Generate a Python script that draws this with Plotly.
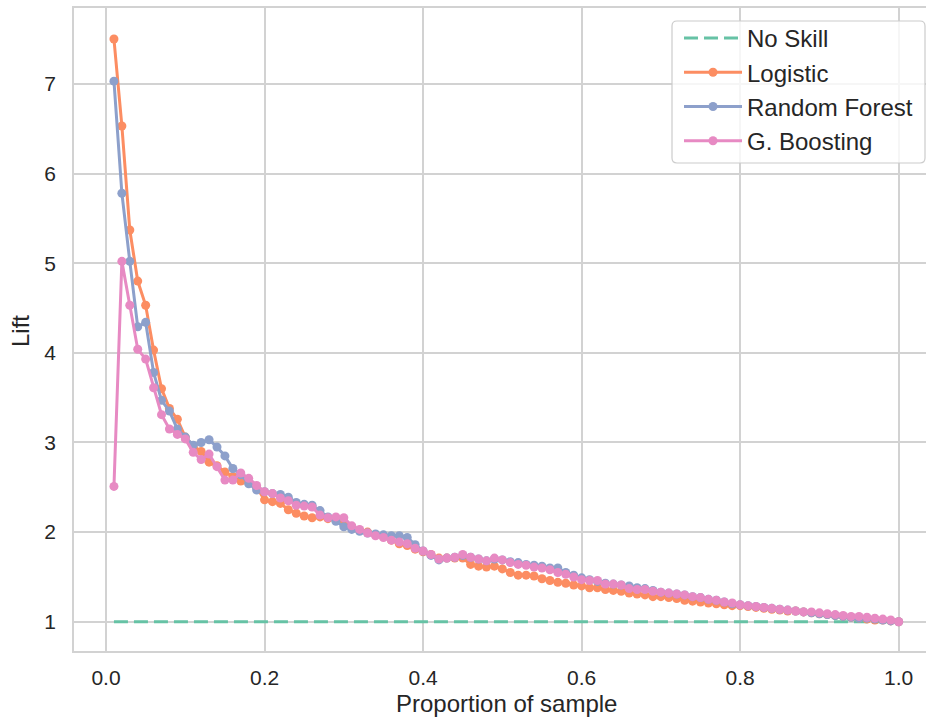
import plotly.graph_objects as go

# Proportion of sample (deciles at 1% resolution)
proportion = [round(0.01 * i, 2) for i in range(1, 101)]

no_skill = [1.0] * 100

logistic = [
    7.50, 6.53, 5.37, 4.80, 4.53, 4.03, 3.60, 3.38, 3.26, 3.06,
    2.96, 2.90, 2.78, 2.74, 2.67, 2.62, 2.57, 2.55, 2.50, 2.36,
    2.34, 2.32, 2.25, 2.21, 2.18, 2.16, 2.17, 2.15, 2.14, 2.11,
    2.06, 2.02, 2.00, 1.97, 1.95, 1.91, 1.87, 1.85, 1.81, 1.78,
    1.75, 1.71, 1.71, 1.71, 1.71, 1.64, 1.62, 1.61, 1.62, 1.59,
    1.55, 1.52, 1.52, 1.51, 1.48, 1.46, 1.44, 1.43, 1.41, 1.40,
    1.38, 1.38, 1.36, 1.35, 1.34, 1.32, 1.31, 1.30, 1.28, 1.28,
    1.27, 1.26, 1.24, 1.23, 1.22, 1.21, 1.20, 1.19, 1.18, 1.18,
    1.17, 1.16, 1.15, 1.14, 1.13, 1.12, 1.12, 1.11, 1.10, 1.09,
    1.08, 1.07, 1.06, 1.05, 1.04, 1.03, 1.02, 1.02, 1.01, 1.00,
]

random_forest = [
    7.03, 5.78, 5.02, 4.29, 4.34, 3.78, 3.47, 3.35, 3.15, 3.06,
    2.97, 3.00, 3.03, 2.95, 2.85, 2.71, 2.64, 2.54, 2.47, 2.45,
    2.43, 2.42, 2.39, 2.33, 2.31, 2.30, 2.24, 2.17, 2.12, 2.06,
    2.03, 2.01, 1.99, 1.98, 1.97, 1.96, 1.96, 1.94, 1.86, 1.79,
    1.74, 1.69, 1.71, 1.72, 1.74, 1.72, 1.70, 1.68, 1.70, 1.69,
    1.67, 1.66, 1.64, 1.63, 1.62, 1.60, 1.60, 1.55, 1.52, 1.49,
    1.47, 1.45, 1.43, 1.42, 1.41, 1.40, 1.38, 1.37, 1.35, 1.33,
    1.32, 1.31, 1.30, 1.28, 1.27, 1.25, 1.24, 1.22, 1.20, 1.19,
    1.18, 1.17, 1.16, 1.15, 1.14, 1.13, 1.12, 1.11, 1.10, 1.09,
    1.08, 1.07, 1.06, 1.05, 1.04, 1.04, 1.03, 1.02, 1.01, 1.00,
]

g_boosting = [
    2.51, 5.02, 4.53, 4.04, 3.93, 3.61, 3.31, 3.15, 3.09, 3.04,
    2.89, 2.81, 2.87, 2.73, 2.58, 2.58, 2.66, 2.60, 2.52, 2.45,
    2.43, 2.38, 2.35, 2.30, 2.29, 2.28, 2.19, 2.16, 2.17, 2.16,
    2.07, 2.03, 1.99, 1.96, 1.94, 1.91, 1.89, 1.87, 1.82, 1.79,
    1.75, 1.70, 1.71, 1.72, 1.75, 1.72, 1.70, 1.68, 1.71, 1.69,
    1.66, 1.64, 1.63, 1.61, 1.60, 1.58, 1.55, 1.53, 1.50, 1.47,
    1.46, 1.46, 1.42, 1.42, 1.41, 1.37, 1.36, 1.36, 1.34, 1.33,
    1.32, 1.31, 1.30, 1.28, 1.27, 1.25, 1.24, 1.22, 1.21, 1.19,
    1.18, 1.17, 1.16, 1.15, 1.14, 1.13, 1.12, 1.11, 1.11, 1.10,
    1.09, 1.08, 1.07, 1.06, 1.06, 1.05, 1.04, 1.03, 1.02, 1.00,
]

x_ticks = [0.0, 0.2, 0.4, 0.6, 0.8, 1.0]
y_ticks = [1, 2, 3, 4, 5, 6, 7]

FONT = "Liberation Sans, Arial, sans-serif"
TEXT = "#262626"
GRID = "#d2d2d2"

W, H = 926, 720
L, R, T, B = 74, 0, 8, 69
pw, ph = W - L - R, H - T - B


def px_x(p):
    return (p - L) / pw


def px_y(p):
    return (H - B - p) / ph


fig = go.Figure()

fig.add_trace(go.Scatter(
    x=proportion, y=no_skill, name="No Skill", mode="lines",
    line=dict(color="#66c2a5", width=3, dash="14px,6px"),
))

series = [
    ("Logistic", logistic, "#fc8d62"),
    ("Random Forest", random_forest, "#8da0cb"),
    ("G. Boosting", g_boosting, "#e78ac3"),
]
for name, vals, color in series:
    fig.add_trace(go.Scatter(
        x=proportion, y=vals, name=name, mode="lines+markers",
        line=dict(color=color, width=3),
        marker=dict(color=color, size=9),
    ))

# legend frame (rounded, semi-transparent)
lx0, lx1, ly0, ly1, rad = px_x(672), px_x(925), px_y(163), px_y(21), 5
rx, ry = rad / pw, rad / ph
path = (
    f"M {lx0 + rx},{ly1} L {lx1 - rx},{ly1} Q {lx1},{ly1} {lx1},{ly1 - ry} "
    f"L {lx1},{ly0 + ry} Q {lx1},{ly0} {lx1 - rx},{ly0} "
    f"L {lx0 + rx},{ly0} Q {lx0},{ly0} {lx0},{ly0 + ry} "
    f"L {lx0},{ly1 - ry} Q {lx0},{ly1} {lx0 + rx},{ly1} Z"
)
fig.add_shape(type="path", path=path, xref="paper", yref="paper",
              fillcolor="rgba(255,255,255,0.8)",
              line=dict(color="#cccccc", width=1.2), layer="above")

fig.add_annotation(text="Lift", xref="paper", yref="paper", x=px_x(21), y=px_y(331),
                   xanchor="center", yanchor="middle", textangle=-90, showarrow=False,
                   font=dict(family=FONT, size=24, color=TEXT))
fig.add_annotation(text="Proportion of sample", xref="paper", yref="paper",
                   x=px_x(507), y=px_y(703), xanchor="center", yanchor="middle",
                   showarrow=False, font=dict(family=FONT, size=24, color=TEXT))

fig.update_layout(
    width=W, height=H,
    margin=dict(l=L, r=R, t=T, b=B),
    paper_bgcolor="white", plot_bgcolor="white",
    font=dict(family=FONT, color=TEXT),
    showlegend=True,
    legend=dict(
        x=px_x(679), y=px_y(16), xanchor="left", yanchor="top",
        bgcolor="rgba(0,0,0,0)", borderwidth=0,
        font=dict(family=FONT, size=24, color=TEXT),
        itemwidth=58,
    ),
    xaxis=dict(
        range=[-0.0404, 1.0345], tickvals=x_ticks,
        ticktext=[f"{v:.1f}" for v in x_ticks],
        showgrid=True, gridcolor=GRID, gridwidth=1.6,
        showline=True, linecolor=GRID, linewidth=1.6, mirror=True,
        zeroline=False, ticks="", ticklabelstandoff=7,
        tickfont=dict(family=FONT, size=21, color=TEXT),
    ),
    yaxis=dict(
        range=[0.674, 7.846], tickvals=y_ticks,
        showgrid=True, gridcolor=GRID, gridwidth=1.6,
        showline=True, linecolor=GRID, linewidth=1.6, mirror=False,
        zeroline=False, ticks="", ticklabelstandoff=12,
        tickfont=dict(family=FONT, size=21, color=TEXT),
    ),
)

fig.write_html("out.html")
